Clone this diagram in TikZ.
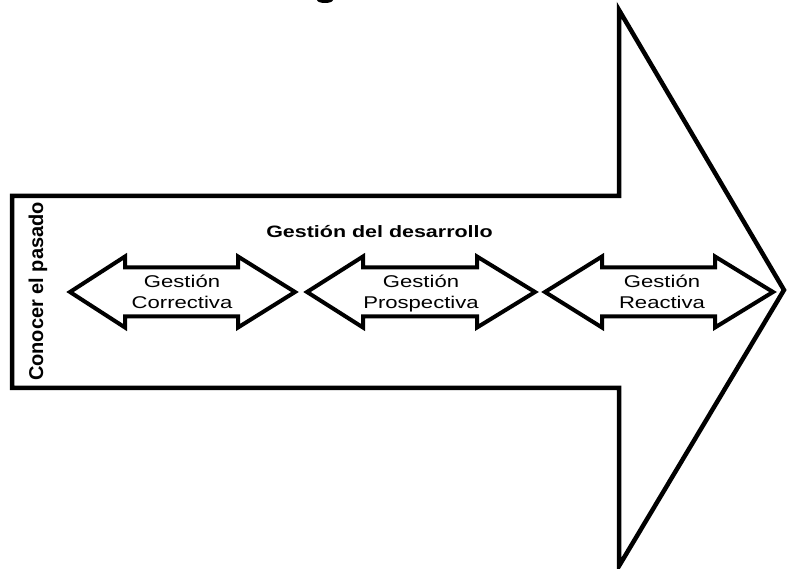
\documentclass[tikz,border=0pt]{standalone}
\usepackage{fontspec}
\setmainfont{Liberation Sans}
\begin{document}
\begin{tikzpicture}[x=1pt,y=-1pt,
  bigarrow/.style={draw=black,line width=4.5pt,line join=miter,fill=white},
  smallarrow/.style={draw=black,line width=4pt,line join=miter,fill=white},
  lbl/.style={inner sep=0pt,anchor=base,font=\fontsize{17}{20}\selectfont},
  ttl/.style={inner sep=0pt,anchor=base,font=\fontsize{16.5}{20}\selectfont\bfseries}]
\useasboundingbox (0,0) rectangle (788,569);
\fill[white] (0,0) rectangle (788,569);
% cropped fragment at top
\fill[black] (325,0) ellipse [x radius=8, y radius=3];
% big arrow
\draw[bigarrow] (12,196) -- (619,196) -- (619,10) -- (784,290) -- (619,566) -- (619,388) -- (12,388) -- cycle;
% small double arrows
\foreach \a/\b/\c/\d in {70/125/238/295, 307/363/477/535, 545/602/715/773}{
  \draw[smallarrow] (\a,292) -- (\b,256.5) -- (\b,267.5) -- (\c,267.5) -- (\c,256.5) -- (\d,292)
     -- (\c,327.5) -- (\c,316.5) -- (\b,316.5) -- (\b,327.5) -- cycle;
}
% texts
\node[ttl] (t) at (379.5,238) {\scalebox{1.3}[1]{Gestión del desarrollo}};
\node[inner sep=0pt,anchor=base,rotate=90,font=\fontsize{20}{24}\selectfont\bfseries] (p) at (43,291.5) {Conocer el pasado};
\node[lbl] (g1) at (182,288) {\scalebox{1.3}[1]{Gestión}};
\node[lbl] (c1) at (182,309) {\scalebox{1.3}[1]{Correctiva}};
\node[lbl] (g2) at (421,288) {\scalebox{1.3}[1]{Gestión}};
\node[lbl] (c2) at (421,309) {\scalebox{1.3}[1]{Prospectiva}};
\node[lbl] (g3) at (662,288) {\scalebox{1.3}[1]{Gestión}};
\node[lbl] (c3) at (662,309) {\scalebox{1.3}[1]{Reactiva}};
\end{tikzpicture}
\end{document}
